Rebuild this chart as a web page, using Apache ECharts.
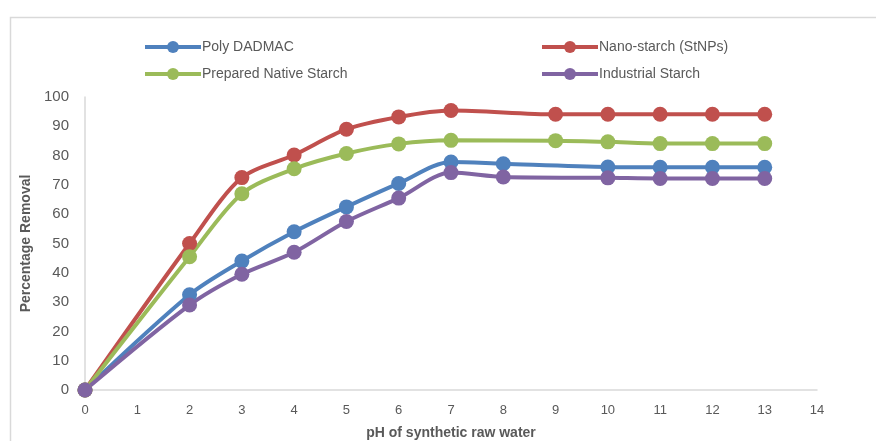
<!DOCTYPE html>
<html>
<head>
<meta charset="utf-8">
<script src="https://cdn.jsdelivr.net/npm/echarts@6/dist/echarts.min.js"></script>
<style>
  html, body { margin: 0; padding: 0; background: #fff; }
  #chart { width: 876px; height: 441px; }
</style>
</head>
<body>
<div id="chart"></div>
<script>
// pH values and percentage removal for each coagulant
const phPolyDadmac = [0, 2, 3, 4, 5, 6, 7, 8, 10, 11, 12, 13];
const polyDadmac   = [0, 32.5, 44, 54, 62.5, 70.5, 77.8, 77.2, 76.1, 76, 76, 76];

const phNanoStarch = [0, 2, 3, 4, 5, 6, 7, 9, 10, 11, 12, 13];
const nanoStarch   = [0, 50, 72.5, 80.2, 89, 93.2, 95.4, 94.1, 94.1, 94.1, 94.1, 94.1];

const phNative     = [0, 2, 3, 4, 5, 6, 7, 9, 10, 11, 12, 13];
const nativeStarch = [0, 45.5, 67, 75.5, 80.7, 84, 85.2, 85.1, 84.7, 84.1, 84.1, 84.1];

const phIndustrial = [0, 2, 3, 4, 5, 6, 7, 8, 10, 11, 12, 13];
const industrial   = [0, 29, 39.5, 47, 57.5, 65.5, 74.2, 72.7, 72.4, 72.2, 72.2, 72.2];

const seriesNames = ['Poly DADMAC', 'Nano-starch (StNPs)', 'Prepared Native Starch', 'Industrial Starch'];
const colors = ['#4F81BD', '#C0504D', '#9BBB59', '#8064A2'];

const pair = (xs, ys) => xs.map((x, i) => [x, ys[i]]);

const font = 'Liberation Sans, Arial, sans-serif';
const textColor = '#595959';

function lineSeries(name, data, color) {
  return {
    name: name,
    type: 'line',
    data: data,
    smooth: 0.3,
    symbol: 'circle',
    symbolSize: 15,
    showSymbol: true,
    lineStyle: { width: 4, color: color },
    itemStyle: { color: color },
    emphasis: { disabled: true }
  };
}

const chart = echarts.init(document.getElementById('chart'), null, { renderer: 'canvas' });

const legendCommon = {
  orient: 'vertical',
  itemWidth: 56,
  itemHeight: 15,
  itemGap: 13,
  lineStyle: { width: 4 },
  textStyle: { fontFamily: font, fontSize: 14, color: textColor, padding: [0, 0, 0, -4] }
};

chart.setOption({
  animation: false,
  backgroundColor: '#fff',
  graphic: [{
    type: 'rect',
    shape: { x: 10.5, y: 17.5, width: 900, height: 500 },
    style: { fill: 'none', stroke: '#d9d9d9', lineWidth: 1.5 },
    silent: true
  }],
  legend: [
    Object.assign({ left: 138, top: 35, data: [seriesNames[0], seriesNames[2]] }, legendCommon),
    Object.assign({ left: 535, top: 35, data: [seriesNames[1], seriesNames[3]] }, legendCommon)
  ],
  grid: { left: 85, right: 59, top: 97, bottom: 51, containLabel: false, outerBoundsMode: 'none' },
  xAxis: {
    type: 'value',
    min: 0, max: 14, interval: 1,
    name: 'pH of synthetic raw water',
    nameLocation: 'middle',
    nameGap: 36,
    nameTextStyle: { fontFamily: font, fontSize: 14, fontWeight: 'bold', color: textColor },
    axisLine: { show: true, lineStyle: { color: '#d9d9d9', width: 1.5 } },
    axisTick: { show: false },
    splitLine: { show: false },
    axisLabel: { fontFamily: font, fontSize: 13, color: textColor, margin: 14 }
  },
  yAxis: {
    type: 'value',
    min: 0, max: 100, interval: 10,
    name: 'Percentage Removal',
    nameLocation: 'middle',
    nameGap: 50,
    nameRotate: 90,
    nameTextStyle: { fontFamily: font, fontSize: 14, fontWeight: 'bold', color: textColor },
    axisLine: { show: true, lineStyle: { color: '#d9d9d9', width: 1.5 } },
    axisTick: { show: false },
    splitLine: { show: false },
    axisLabel: { fontFamily: font, fontSize: 15, color: textColor, margin: 16 }
  },
  series: [
    lineSeries(seriesNames[0], pair(phPolyDadmac, polyDadmac), colors[0]),
    lineSeries(seriesNames[1], pair(phNanoStarch, nanoStarch), colors[1]),
    lineSeries(seriesNames[2], pair(phNative, nativeStarch), colors[2]),
    lineSeries(seriesNames[3], pair(phIndustrial, industrial), colors[3])
  ]
});
</script>
</body>
</html>
